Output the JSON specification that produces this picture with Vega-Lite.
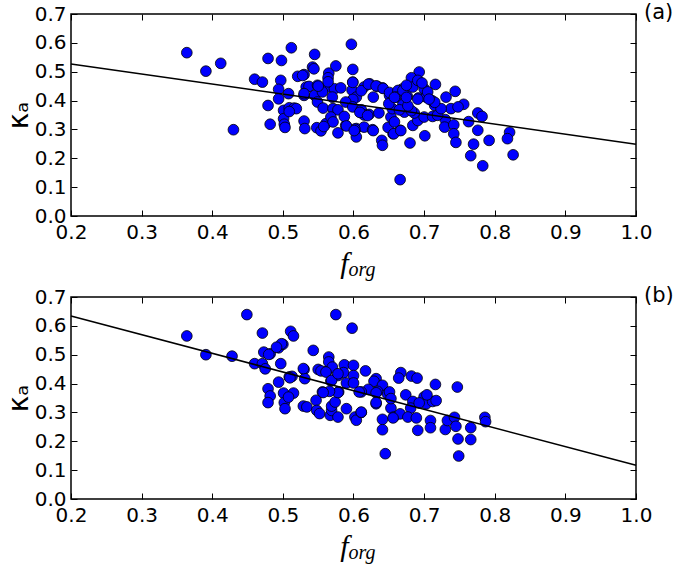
{
  "$schema": "https://vega.github.io/schema/vega-lite/v6.json",
  "padding": {"left": 4, "top": 1, "right": 0, "bottom": 0},
  "bounds": "flush",
  "spacing": 81,
  "config": {
    "view": {"stroke": "black", "strokeWidth": 1.5},
    "axis": {"grid": false, "domain": false, "labelFont": "DejaVu Sans", "labelFontSize": 20, "labelColor": "black", "tickColor": "black", "tickSize": -6, "tickWidth": 1, "labelPadding": 11, "labelFlush": false, "labelOverlap": false, "titleColor": "black", "titleFontWeight": "normal"},
    "axisX": {"labelPadding": 12}
  },
  "datasets": {
    "a": [
      {"f_org":0.364,"kappa_a":0.566},{"f_org":0.391,"kappa_a":0.502},{"f_org":0.412,"kappa_a":0.529},{"f_org":0.430,"kappa_a":0.299},
      {"f_org":0.460,"kappa_a":0.474},{"f_org":0.471,"kappa_a":0.464},{"f_org":0.479,"kappa_a":0.546},{"f_org":0.498,"kappa_a":0.539},{"f_org":0.512,"kappa_a":0.583},{"f_org":0.545,"kappa_a":0.560},{"f_org":0.542,"kappa_a":0.516},{"f_org":0.565,"kappa_a":0.495},{"f_org":0.575,"kappa_a":0.520},{"f_org":0.599,"kappa_a":0.508},{"f_org":0.597,"kappa_a":0.595},
      {"f_org":0.497,"kappa_a":0.470},{"f_org":0.521,"kappa_a":0.484},{"f_org":0.530,"kappa_a":0.490},{"f_org":0.564,"kappa_a":0.479},{"f_org":0.599,"kappa_a":0.464},
      {"f_org":0.494,"kappa_a":0.439},{"f_org":0.508,"kappa_a":0.424},{"f_org":0.494,"kappa_a":0.406},{"f_org":0.533,"kappa_a":0.447},{"f_org":0.537,"kappa_a":0.449},{"f_org":0.549,"kappa_a":0.453},{"f_org":0.564,"kappa_a":0.447},{"f_org":0.573,"kappa_a":0.441},{"f_org":0.582,"kappa_a":0.444},
      {"f_org":0.530,"kappa_a":0.418},{"f_org":0.545,"kappa_a":0.418},{"f_org":0.556,"kappa_a":0.430},{"f_org":0.570,"kappa_a":0.412},{"f_org":0.598,"kappa_a":0.436},{"f_org":0.604,"kappa_a":0.412},{"f_org":0.599,"kappa_a":0.404},
      {"f_org":0.615,"kappa_a":0.447},{"f_org":0.623,"kappa_a":0.458},{"f_org":0.634,"kappa_a":0.449},{"f_org":0.641,"kappa_a":0.444},{"f_org":0.651,"kappa_a":0.418},{"f_org":0.628,"kappa_a":0.412},
      {"f_org":0.479,"kappa_a":0.383},{"f_org":0.501,"kappa_a":0.366},{"f_org":0.509,"kappa_a":0.375},{"f_org":0.516,"kappa_a":0.374},{"f_org":0.549,"kappa_a":0.395},{"f_org":0.557,"kappa_a":0.374},{"f_org":0.571,"kappa_a":0.372},{"f_org":0.578,"kappa_a":0.368},{"f_org":0.589,"kappa_a":0.395},{"f_org":0.599,"kappa_a":0.378},{"f_org":0.611,"kappa_a":0.368},{"f_org":0.622,"kappa_a":0.352},{"f_org":0.636,"kappa_a":0.357},
      {"f_org":0.501,"kappa_a":0.337},{"f_org":0.502,"kappa_a":0.318},{"f_org":0.503,"kappa_a":0.307},{"f_org":0.482,"kappa_a":0.318},{"f_org":0.530,"kappa_a":0.329},{"f_org":0.531,"kappa_a":0.303},{"f_org":0.548,"kappa_a":0.306},{"f_org":0.561,"kappa_a":0.320},{"f_org":0.568,"kappa_a":0.343},{"f_org":0.571,"kappa_a":0.326},{"f_org":0.578,"kappa_a":0.288},{"f_org":0.589,"kappa_a":0.314},{"f_org":0.604,"kappa_a":0.303},{"f_org":0.604,"kappa_a":0.274},{"f_org":0.615,"kappa_a":0.308},{"f_org":0.627,"kappa_a":0.299},{"f_org":0.640,"kappa_a":0.262},{"f_org":0.641,"kappa_a":0.245},{"f_org":0.554,"kappa_a":0.295},{"f_org":0.656,"kappa_a":0.285},{"f_org":0.653,"kappa_a":0.343},{"f_org":0.655,"kappa_a":0.372},{"f_org":0.615,"kappa_a":0.350},{"f_org":0.587,"kappa_a":0.345},
      {"f_org":0.519,"kappa_a":0.372},{"f_org":0.509,"kappa_a":0.362},{"f_org":0.528,"kappa_a":0.487},{"f_org":0.544,"kappa_a":0.510},{"f_org":0.530,"kappa_a":0.424},{"f_org":0.558,"kappa_a":0.310},{"f_org":0.564,"kappa_a":0.465},{"f_org":0.550,"kappa_a":0.450},{"f_org":0.599,"kappa_a":0.463},{"f_org":0.602,"kappa_a":0.301},{"f_org":0.590,"kappa_a":0.312},
      {"f_org":0.611,"kappa_a":0.434},{"f_org":0.621,"kappa_a":0.457},{"f_org":0.632,"kappa_a":0.451},{"f_org":0.642,"kappa_a":0.442},{"f_org":0.651,"kappa_a":0.428},{"f_org":0.663,"kappa_a":0.431},{"f_org":0.669,"kappa_a":0.440},
      {"f_org":0.609,"kappa_a":0.359},{"f_org":0.620,"kappa_a":0.348},{"f_org":0.649,"kappa_a":0.307},
      {"f_org":0.666,"kappa_a":0.126},{"f_org":0.693,"kappa_a":0.499},{"f_org":0.682,"kappa_a":0.479},{"f_org":0.716,"kappa_a":0.456},{"f_org":0.663,"kappa_a":0.435},{"f_org":0.676,"kappa_a":0.416},{"f_org":0.684,"kappa_a":0.447},{"f_org":0.700,"kappa_a":0.441},{"f_org":0.692,"kappa_a":0.409},{"f_org":0.703,"kappa_a":0.412},{"f_org":0.715,"kappa_a":0.383},{"f_org":0.731,"kappa_a":0.412},{"f_org":0.744,"kappa_a":0.432},{"f_org":0.756,"kappa_a":0.387},{"f_org":0.738,"kappa_a":0.372},{"f_org":0.748,"kappa_a":0.378},{"f_org":0.776,"kappa_a":0.357},{"f_org":0.782,"kappa_a":0.345},{"f_org":0.763,"kappa_a":0.327},{"f_org":0.730,"kappa_a":0.334},{"f_org":0.729,"kappa_a":0.308},{"f_org":0.742,"kappa_a":0.316},{"f_org":0.742,"kappa_a":0.285},{"f_org":0.745,"kappa_a":0.255},{"f_org":0.776,"kappa_a":0.297},{"f_org":0.770,"kappa_a":0.249},{"f_org":0.792,"kappa_a":0.262},{"f_org":0.766,"kappa_a":0.209},{"f_org":0.783,"kappa_a":0.174},{"f_org":0.821,"kappa_a":0.290},{"f_org":0.818,"kappa_a":0.268},{"f_org":0.826,"kappa_a":0.212},
      {"f_org":0.701,"kappa_a":0.278},{"f_org":0.680,"kappa_a":0.253},{"f_org":0.666,"kappa_a":0.297},{"f_org":0.658,"kappa_a":0.326},{"f_org":0.657,"kappa_a":0.285},{"f_org":0.684,"kappa_a":0.314},{"f_org":0.691,"kappa_a":0.331},{"f_org":0.700,"kappa_a":0.343},{"f_org":0.712,"kappa_a":0.345},{"f_org":0.719,"kappa_a":0.349},{"f_org":0.724,"kappa_a":0.372},{"f_org":0.672,"kappa_a":0.360},{"f_org":0.670,"kappa_a":0.389},{"f_org":0.650,"kappa_a":0.389},{"f_org":0.660,"kappa_a":0.412},{"f_org":0.670,"kappa_a":0.435},{"f_org":0.675,"kappa_a":0.453},{"f_org":0.691,"kappa_a":0.470},{"f_org":0.705,"kappa_a":0.430},{"f_org":0.711,"kappa_a":0.400},{"f_org":0.686,"kappa_a":0.357},
      {"f_org":0.697,"kappa_a":0.461},{"f_org":0.691,"kappa_a":0.405},{"f_org":0.665,"kappa_a":0.368},{"f_org":0.682,"kappa_a":0.365},{"f_org":0.667,"kappa_a":0.296},{"f_org":0.715,"kappa_a":0.394},{"f_org":0.707,"kappa_a":0.405},{"f_org":0.677,"kappa_a":0.382},{"f_org":0.675,"kappa_a":0.411},{"f_org":0.658,"kappa_a":0.411},{"f_org":0.628,"kappa_a":0.296},{"f_org":0.601,"kappa_a":0.296}
    ],
    "b": [
      {"f_org":0.364,"kappa_a":0.565},{"f_org":0.391,"kappa_a":0.500},{"f_org":0.428,"kappa_a":0.495},{"f_org":0.449,"kappa_a":0.639},{"f_org":0.460,"kappa_a":0.469},{"f_org":0.471,"kappa_a":0.575},{"f_org":0.471,"kappa_a":0.469},{"f_org":0.475,"kappa_a":0.451},{"f_org":0.473,"kappa_a":0.509},{"f_org":0.482,"kappa_a":0.503},{"f_org":0.479,"kappa_a":0.382},{"f_org":0.482,"kappa_a":0.357},{"f_org":0.479,"kappa_a":0.334},{"f_org":0.494,"kappa_a":0.524},{"f_org":0.500,"kappa_a":0.536},{"f_org":0.497,"kappa_a":0.469},{"f_org":0.494,"kappa_a":0.405},{"f_org":0.501,"kappa_a":0.367},{"f_org":0.502,"kappa_a":0.334},{"f_org":0.503,"kappa_a":0.313},{"f_org":0.511,"kappa_a":0.581},{"f_org":0.515,"kappa_a":0.565},{"f_org":0.509,"kappa_a":0.423},{"f_org":0.513,"kappa_a":0.425},{"f_org":0.515,"kappa_a":0.367},{"f_org":0.508,"kappa_a":0.353},{"f_org":0.530,"kappa_a":0.449},{"f_org":0.531,"kappa_a":0.417},{"f_org":0.529,"kappa_a":0.322},{"f_org":0.534,"kappa_a":0.319},{"f_org":0.543,"kappa_a":0.515},{"f_org":0.550,"kappa_a":0.449},{"f_org":0.562,"kappa_a":0.442},{"f_org":0.565,"kappa_a":0.492},{"f_org":0.565,"kappa_a":0.475},{"f_org":0.570,"kappa_a":0.457},{"f_org":0.575,"kappa_a":0.639},{"f_org":0.578,"kappa_a":0.428},{"f_org":0.568,"kappa_a":0.409},{"f_org":0.556,"kappa_a":0.371},{"f_org":0.547,"kappa_a":0.342},{"f_org":0.548,"kappa_a":0.307},{"f_org":0.552,"kappa_a":0.296},{"f_org":0.567,"kappa_a":0.290},{"f_org":0.569,"kappa_a":0.307},{"f_org":0.569,"kappa_a":0.322},{"f_org":0.574,"kappa_a":0.336},{"f_org":0.578,"kappa_a":0.284},{"f_org":0.579,"kappa_a":0.371},{"f_org":0.587,"kappa_a":0.465},{"f_org":0.586,"kappa_a":0.438},{"f_org":0.590,"kappa_a":0.402},{"f_org":0.590,"kappa_a":0.313},{"f_org":0.598,"kappa_a":0.592},{"f_org":0.600,"kappa_a":0.463},{"f_org":0.600,"kappa_a":0.428},{"f_org":0.600,"kappa_a":0.402},{"f_org":0.602,"kappa_a":0.284},{"f_org":0.604,"kappa_a":0.273},
      {"f_org":0.498,"kappa_a":0.538},{"f_org":0.491,"kappa_a":0.526},{"f_org":0.480,"kappa_a":0.501},{"f_org":0.510,"kappa_a":0.420},{"f_org":0.554,"kappa_a":0.444},{"f_org":0.561,"kappa_a":0.440},{"f_org":0.529,"kappa_a":0.452},{"f_org":0.569,"kappa_a":0.411},{"f_org":0.578,"kappa_a":0.434},{"f_org":0.617,"kappa_a":0.444},{"f_org":0.632,"kappa_a":0.417},{"f_org":0.629,"kappa_a":0.408},{"f_org":0.641,"kappa_a":0.394},{"f_org":0.648,"kappa_a":0.365},{"f_org":0.634,"kappa_a":0.373},{"f_org":0.621,"kappa_a":0.380},{"f_org":0.611,"kappa_a":0.371},{"f_org":0.578,"kappa_a":0.369},{"f_org":0.566,"kappa_a":0.373},{"f_org":0.557,"kappa_a":0.369},{"f_org":0.611,"kappa_a":0.300},{"f_org":0.632,"kappa_a":0.330},{"f_org":0.641,"kappa_a":0.276},{"f_org":0.641,"kappa_a":0.240},{"f_org":0.645,"kappa_a":0.157},
      {"f_org":0.608,"kappa_a":0.371},{"f_org":0.611,"kappa_a":0.301},{"f_org":0.651,"kappa_a":0.371},{"f_org":0.632,"kappa_a":0.368},{"f_org":0.632,"kappa_a":0.334},{"f_org":0.653,"kappa_a":0.315},{"f_org":0.657,"kappa_a":0.284},
      {"f_org":0.667,"kappa_a":0.438},{"f_org":0.664,"kappa_a":0.419},{"f_org":0.682,"kappa_a":0.426},{"f_org":0.690,"kappa_a":0.419},{"f_org":0.716,"kappa_a":0.397},{"f_org":0.747,"kappa_a":0.388},{"f_org":0.653,"kappa_a":0.348},{"f_org":0.674,"kappa_a":0.361},{"f_org":0.684,"kappa_a":0.338},{"f_org":0.681,"kappa_a":0.315},{"f_org":0.700,"kappa_a":0.354},{"f_org":0.703,"kappa_a":0.330},{"f_org":0.712,"kappa_a":0.338},{"f_org":0.717,"kappa_a":0.341},{"f_org":0.666,"kappa_a":0.295},{"f_org":0.656,"kappa_a":0.281},{"f_org":0.677,"kappa_a":0.284},{"f_org":0.689,"kappa_a":0.281},{"f_org":0.691,"kappa_a":0.238},{"f_org":0.709,"kappa_a":0.272},{"f_org":0.709,"kappa_a":0.247},{"f_org":0.730,"kappa_a":0.241},{"f_org":0.733,"kappa_a":0.272},{"f_org":0.743,"kappa_a":0.283},{"f_org":0.745,"kappa_a":0.252},{"f_org":0.748,"kappa_a":0.208},{"f_org":0.749,"kappa_a":0.149},{"f_org":0.766,"kappa_a":0.247},{"f_org":0.766,"kappa_a":0.206},{"f_org":0.786,"kappa_a":0.283},{"f_org":0.787,"kappa_a":0.268},{"f_org":0.693,"kappa_a":0.333},{"f_org":0.704,"kappa_a":0.361}
    ],
    "fa": [{"f_org":0.2,"kappa_a":0.527},{"f_org":1.0,"kappa_a":0.249}],
    "fb": [{"f_org":0.2,"kappa_a":0.634},{"f_org":1.0,"kappa_a":0.117}]
  },
  "vconcat": [
    {
      "width": 565, "height": 202,
      "layer": [
        {"data": {"name": "a"},
         "mark": {"type": "point", "filled": true, "fill": "#0000ff", "stroke": "black", "strokeWidth": 0.8, "size": 115, "opacity": 1},
         "encoding": {
           "x": {"field": "f_org", "type": "quantitative", "scale": {"domain": [0.2, 1.0], "nice": false, "zero": false},
                 "axis": {"orient": "bottom", "values": [0.2,0.3,0.4,0.5,0.6,0.7,0.8,0.9,1.0], "format": ".1f", "title": "f", "titleFont": "Liberation Serif", "titleFontStyle": "italic", "titleFontSize": 30, "titleX": 273, "titleY": 56, "titleBaseline": "alphabetic", "titleAlign": "center"}},
           "y": {"field": "kappa_a", "type": "quantitative", "scale": {"domain": [0, 0.7], "nice": false},
                 "axis": {"orient": "left", "values": [0,0.1,0.2,0.3,0.4,0.5,0.6,0.7], "format": ".1f", "title": "κₐ", "titleFont": "DejaVu Sans", "titleFontSize": 28, "titlePadding": 1}}
         }},
        {"data": {"name": "fa"},
         "mark": {"type": "line", "color": "black", "strokeWidth": 1.5},
         "encoding": {
           "x": {"field": "f_org", "type": "quantitative", "axis": {"orient": "top", "labels": false, "title": null, "values": [0.2,0.3,0.4,0.5,0.6,0.7,0.8,0.9,1.0]}},
           "y": {"field": "kappa_a", "type": "quantitative", "axis": {"orient": "right", "labels": false, "title": null, "values": [0,0.1,0.2,0.3,0.4,0.5,0.6,0.7]}}
         }},
        {"data": {"values": [{"label": "(a)"}]},
         "mark": {"type": "text", "align": "left", "baseline": "middle", "dx": 8, "dy": -1, "fontSize": 21, "font": "DejaVu Sans", "clip": false},
         "encoding": {"x": {"datum": 1.0, "type": "quantitative", "axis": null}, "y": {"datum": 0.7, "type": "quantitative", "axis": null}, "text": {"field": "label"}}},
        {"data": {"values": [{"label": "org"}]},
         "mark": {"type": "text", "align": "left", "baseline": "alphabetic", "dx": -5, "dy": 60, "fontSize": 20, "font": "Liberation Serif", "fontStyle": "italic", "clip": false},
         "encoding": {"x": {"datum": 0.6, "type": "quantitative", "axis": null}, "y": {"datum": 0, "type": "quantitative", "axis": null}, "text": {"field": "label"}}}
      ]
    },
    {
      "width": 565, "height": 202,
      "layer": [
        {"data": {"name": "b"},
         "mark": {"type": "point", "filled": true, "fill": "#0000ff", "stroke": "black", "strokeWidth": 0.8, "size": 115, "opacity": 1},
         "encoding": {
           "x": {"field": "f_org", "type": "quantitative", "scale": {"domain": [0.2, 1.0], "nice": false, "zero": false},
                 "axis": {"orient": "bottom", "values": [0.2,0.3,0.4,0.5,0.6,0.7,0.8,0.9,1.0], "format": ".1f", "title": "f", "titleFont": "Liberation Serif", "titleFontStyle": "italic", "titleFontSize": 30, "titleX": 273, "titleY": 56, "titleBaseline": "alphabetic", "titleAlign": "center"}},
           "y": {"field": "kappa_a", "type": "quantitative", "scale": {"domain": [0, 0.7], "nice": false},
                 "axis": {"orient": "left", "values": [0,0.1,0.2,0.3,0.4,0.5,0.6,0.7], "format": ".1f", "title": "κₐ", "titleFont": "DejaVu Sans", "titleFontSize": 28, "titlePadding": 1}}
         }},
        {"data": {"name": "fb"},
         "mark": {"type": "line", "color": "black", "strokeWidth": 1.5},
         "encoding": {
           "x": {"field": "f_org", "type": "quantitative", "axis": {"orient": "top", "labels": false, "title": null, "values": [0.2,0.3,0.4,0.5,0.6,0.7,0.8,0.9,1.0]}},
           "y": {"field": "kappa_a", "type": "quantitative", "axis": {"orient": "right", "labels": false, "title": null, "values": [0,0.1,0.2,0.3,0.4,0.5,0.6,0.7]}}
         }},
        {"data": {"values": [{"label": "(b)"}]},
         "mark": {"type": "text", "align": "left", "baseline": "middle", "dx": 8, "dy": -1, "fontSize": 21, "font": "DejaVu Sans", "clip": false},
         "encoding": {"x": {"datum": 1.0, "type": "quantitative", "axis": null}, "y": {"datum": 0.7, "type": "quantitative", "axis": null}, "text": {"field": "label"}}},
        {"data": {"values": [{"label": "org"}]},
         "mark": {"type": "text", "align": "left", "baseline": "alphabetic", "dx": -5, "dy": 60, "fontSize": 20, "font": "Liberation Serif", "fontStyle": "italic", "clip": false},
         "encoding": {"x": {"datum": 0.6, "type": "quantitative", "axis": null}, "y": {"datum": 0, "type": "quantitative", "axis": null}, "text": {"field": "label"}}}
      ]
    }
  ]
}
